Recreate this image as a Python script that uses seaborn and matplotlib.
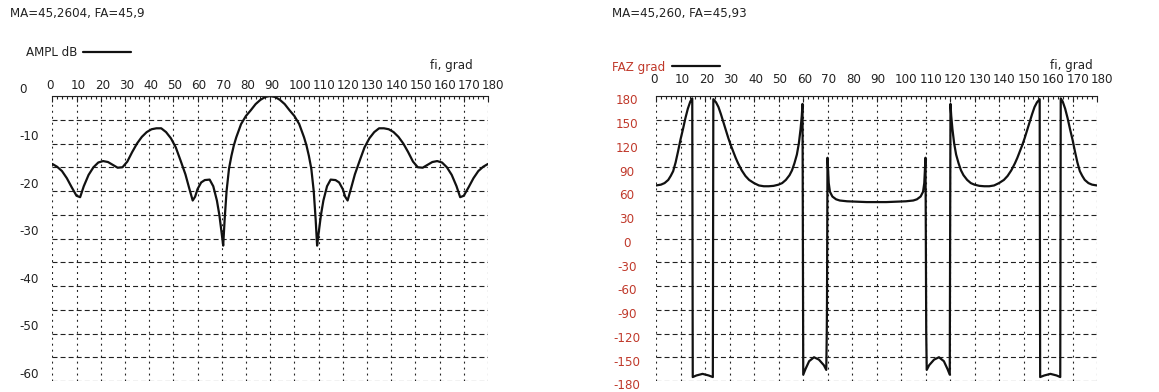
import numpy as np
import matplotlib
matplotlib.use('Agg')
import matplotlib.pyplot as plt
import matplotlib.transforms as mtransforms
import seaborn as sns

# ===============================
# DATA
# ===============================
FI_TICKS = list(range(0, 181, 10))
FI_LABELS = [str(t) for t in FI_TICKS]

AMPL_GRID = list(range(0, -61, -5))
AMPL_TICKS = [0, -10, -20, -30, -40, -50, -60]
AMPL_LABELS = ['0', '-10', '-20', '-30', '-40', '-50', '-60']

FAZ_TICKS = [180, 150, 120, 90, 60, 30, 0, -30, -60, -90, -120, -150, -180]
FAZ_LABELS = ['180', '150', '120', '90', '60', '30', '0', '-30', '-60', '-90', '-120', '-150', '-180']

# amplitude pattern, dB
AMPL_ANGLE = [0, 2, 4, 6, 8, 10, 11.5, 13, 15, 17,
              19, 21, 23, 25, 27, 29, 31, 33, 35, 37,
              39, 41, 43, 45, 47, 49, 51, 53, 55, 56.5,
              58, 59, 60, 61.5, 63, 65, 66.5, 68, 69, 70,
              70.6, 71.2, 72, 73, 74, 75, 76, 78, 80, 82,
              84, 86, 88, 90,
              92, 94, 96, 98, 100, 102, 104, 105, 106, 107,
              108, 108.8, 109.4, 110, 111, 112, 113.5, 115, 117, 118.5,
              120, 121, 122, 123.5, 125, 127, 129, 131, 133, 135,
              137, 139, 141, 143, 145, 147, 149, 151, 153, 155,
              157, 159, 161, 163, 165, 167, 168.5, 170, 172, 174,
              176, 178, 180]
AMPL_DB = [-14.3, -14.9, -15.8, -17.3, -19.2, -21.0, -21.3, -19.0, -16.6, -15.0,
           -14.0, -13.7, -13.9, -14.5, -15.1, -15.0, -13.8, -11.8, -10.0, -8.6,
           -7.6, -7.0, -6.8, -6.8, -7.6, -8.9, -10.8, -13.6, -16.5, -19.3,
           -22.0, -21.2, -19.6, -18.2, -17.7, -17.6, -19.0, -22.0, -25.0, -29.0,
           -31.5, -26.0, -20.0, -15.3, -12.6, -10.4, -8.7, -5.9, -4.2, -3.0,
           -1.7, -0.8, -0.2, 0.0,
           -0.2, -0.8, -1.7, -3.0, -4.2, -5.9, -8.7, -10.4, -12.6, -15.3,
           -20.0, -26.0, -31.5, -29.0, -25.0, -22.0, -19.0, -17.6, -17.7, -18.2,
           -19.6, -21.2, -22.0, -19.3, -16.5, -13.6, -10.8, -8.9, -7.6, -6.8,
           -6.8, -7.0, -7.6, -8.6, -10.0, -11.8, -13.8, -15.0, -15.1, -14.5,
           -13.9, -13.7, -14.0, -15.0, -16.6, -19.0, -21.3, -21.0, -19.2, -17.3,
           -15.8, -14.9, -14.3]

# phase pattern, degrees (wraps at +-180)
FAZ_ANGLE = [0, 2, 3.5, 5, 6, 7, 8, 9, 10, 11,
             12, 13, 14, 14.8, 15.0, 16.5, 19, 21.5, 23.2, 23.4,
             24.5, 25.5, 26.5, 27.5, 28.5, 29.5, 30.5, 31.5, 32.5, 33.5,
             35, 36.5, 38, 40, 42, 44, 46, 48, 50, 51.5,
             53, 54.5, 55.5, 56.5, 57.5, 58.3, 59, 59.5, 59.8, 60.1,
             61, 62.5, 64.5, 66.5, 68.5, 69.5, 69.7, 69.8, 69.9, 70.0,
             70.2, 70.5, 71, 72, 73.5, 75, 78, 82, 86, 90,
             94, 98, 102, 105, 106.5, 108, 109, 109.5, 109.8, 110.0,
             110.1, 110.2, 110.3, 110.5, 111.5, 113.5, 115.5, 117.5, 119, 119.9,
             120.2, 120.5, 121, 121.7, 122.5, 123.5, 124.5, 125.5, 127, 128.5,
             130, 132, 134, 136, 138, 140, 142, 143.5, 145, 146.5,
             147.5, 148.5, 149.5, 150.5, 151.5, 152.5, 153.5, 154.5, 155.5, 156.6,
             156.8, 158.5, 161, 163.5, 165.0, 165.2, 166, 167, 168, 169,
             170, 171, 172, 173, 174, 175, 176.5, 178, 180]
FAZ_DEG = [67, 68, 70, 74, 79, 85, 96, 110, 125, 138,
           152, 164, 173, 177, -175, -173, -171, -173, -175, 176,
           172, 166, 157, 147, 137, 127, 118, 110, 102, 95,
           86, 79, 74, 70, 67, 66, 66, 66.5, 68, 70,
           74, 80, 86, 95, 106, 120, 138, 155, 170, -172,
           -165, -155, -150, -153, -160, -166, -120, -78, 20, 102,
           90, 70, 59, 53, 49.5, 48, 47, 46.5, 46, 46,
           46, 46.5, 47, 48, 49.5, 53, 59, 70, 90, 102,
           20, -78, -120, -166, -160, -153, -150, -155, -165, -172,
           170, 155, 138, 120, 106, 95, 86, 80, 74, 70,
           68, 66.5, 66, 66, 67, 70, 74, 79, 86, 95,
           102, 110, 118, 127, 137, 147, 157, 166, 172, 176,
           -175, -173, -171, -173, -175, 177, 173, 164, 152, 138,
           125, 110, 96, 85, 79, 74, 70, 68, 67]

# ===============================
# FIGURE
# ===============================
sns.set_style('white')
plt.rcParams['font.family'] = ['DejaVu Sans']
plt.rcParams['lines.scale_dashes'] = False

W, H = 1159, 392
RED = '#c0392b'
INK = '#222222'
FS = 8.6

fig = plt.figure(figsize=(W / 100, H / 100), dpi=100)


def px_axes(x0, y0, x1, y1):
    return fig.add_axes([x0 / W, 1 - y1 / H, (x1 - x0) / W, (y1 - y0) / H])


def style_axes(ax, grid_vals, ylim, xpad):
    ax.set_xlim(0, 180)
    ax.set_ylim(*ylim)
    ax.set_xticks(FI_TICKS)
    ax.set_xticklabels(FI_LABELS, fontsize=FS, color=INK)
    ax.set_xticks(np.arange(0, 181, 2), minor=True)
    ax.set_yticks(grid_vals)
    ax.set_yticklabels([])
    ax.tick_params(axis='x', which='both', top=True, bottom=False,
                   labeltop=True, labelbottom=False, direction='in',
                   pad=xpad, width=0.8, color=INK)
    ax.tick_params(axis='x', which='major', length=4)
    ax.tick_params(axis='x', which='minor', length=2.5)
    ax.tick_params(axis='y', length=0)
    ax.xaxis.grid(True, color=INK, linewidth=0.8, linestyle=(0, (1.4, 2.9)))
    ax.yaxis.grid(True, color=INK, linewidth=0.8, linestyle=(0, (3.6, 2.2)))
    ax.set_axisbelow(True)
    for s in ['left', 'right', 'bottom']:
        ax.spines[s].set_visible(False)
    ax.spines['top'].set_linewidth(0.8)
    ax.spines['top'].set_color(INK)
    ax.set_xlabel('')
    ax.set_ylabel('')
    # labels start a little left of their grid line
    shift = mtransforms.ScaledTranslation(-6 / 100, 0, fig.dpi_scale_trans)
    for lab in ax.get_xticklabels():
        lab.set_horizontalalignment('left')
        lab.set_transform(lab.get_transform() + shift)


def y_labels(ax, ticks, labels, x_px, dy_pt, ha, color):
    base = mtransforms.blended_transform_factory(fig.transFigure, ax.transData)
    trans = mtransforms.offset_copy(base, fig=fig, y=dy_pt, units='points')
    for v, lab in zip(ticks, labels):
        ax.text(x_px / W, v, lab, transform=trans, ha=ha, va='center_baseline',
                fontsize=FS, color=color, clip_on=False)


# ---- amplitude panel
ax1 = px_axes(52.3, 96, 488, 381)
sns.lineplot(x=AMPL_ANGLE, y=AMPL_DB, ax=ax1, color='#111111', linewidth=1.6,
             sort=False, estimator=None, label='AMPL dB')
style_axes(ax1, AMPL_GRID, (-60, 0), 2.7)
y_labels(ax1, AMPL_TICKS, AMPL_LABELS, 19, 6.1, 'left', INK)
leg1 = ax1.legend(loc='center left', bbox_to_anchor=(26 / W, 1 - 53 / H),
                  bbox_transform=fig.transFigure, frameon=False, markerfirst=False,
                  handlelength=4.0, handletextpad=0.45, borderpad=0, borderaxespad=0,
                  fontsize=FS)
for t in leg1.get_texts():
    t.set_color(INK)

# ---- phase panel
ax2 = px_axes(656, 96, 1097, 381)
sns.lineplot(x=FAZ_ANGLE, y=FAZ_DEG, ax=ax2, color='#111111', linewidth=1.6,
             sort=False, estimator=None, label='FAZ grad')
style_axes(ax2, FAZ_TICKS, (-180, 180), 7.0)
y_labels(ax2, FAZ_TICKS, FAZ_LABELS, 627, -2.4, 'center', RED)
leg2 = ax2.legend(loc='center left', bbox_to_anchor=(612 / W, 1 - 67 / H),
                  bbox_transform=fig.transFigure, frameon=False, markerfirst=False,
                  handlelength=4.0, handletextpad=0.55, borderpad=0, borderaxespad=0,
                  fontsize=FS)
for t in leg2.get_texts():
    t.set_color(RED)

# ---- header texts
fig.text(10 / W, 1 - 14 / H, 'MA=45,2604, FA=45,9', fontsize=FS, va='center', color=INK)
fig.text(612 / W, 1 - 14 / H, 'MA=45,260, FA=45,93', fontsize=FS, va='center', color=INK)
fig.text(430 / W, 1 - 65 / H, 'fi, grad', fontsize=FS, va='center', color=INK)
fig.text(1050 / W, 1 - 65 / H, 'fi, grad', fontsize=FS, va='center', color=INK)

fig.savefig('out.png', dpi=100, facecolor='white')
